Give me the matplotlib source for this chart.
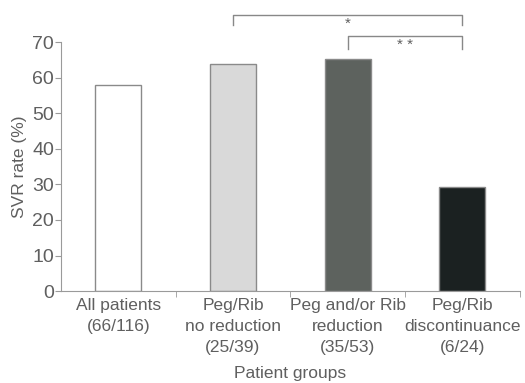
import matplotlib
matplotlib.use("Agg")
import matplotlib.pyplot as plt
import numpy as np

categories = ["All patients\n(66/116)", "Peg/Rib\nno reduction\n(25/39)",
              "Peg and/or Rib\nreduction\n(35/53)", "Peg/Rib\ndiscontinuance\n(6/24)"]
svr_rates = [58, 63.8, 65.2, 29.3]
bar_colors = ["#ffffff", "#d9d9d9", "#5d625e", "#1b2121"]
y_ticks = [0, 10, 20, 30, 40, 50, 60, 70]

plt.rcParams['font.family'] = ['Liberation Sans', 'DejaVu Sans']
txt = "#5f5f5f"
axc = "#9a9a9a"

fig = plt.figure(figsize=(5.25, 3.83), dpi=100)
ax = fig.add_axes([0.116, 0.240, 0.874, 0.650])
x = np.arange(len(categories))
ax.bar(x, svr_rates, width=0.4, color=bar_colors, edgecolor="#8a8a8a", linewidth=1.0)
ax.set_xlim(-0.5, 3.5)
ax.set_ylim(0, 70)
ax.set_yticks(y_ticks)
ax.set_xticks(x)
ax.set_xticklabels(categories, fontsize=12.5, color=txt, linespacing=1.5)
ax.set_xticks(np.arange(0.5, 3.6, 1), minor=True)
ax.tick_params(axis='x', which='major', length=0, pad=5)
ax.tick_params(axis='x', which='minor', length=4, color=axc, direction='out')
ax.tick_params(axis='y', labelsize=14, labelcolor=txt, color=axc, length=4, pad=1)
for s in ["top", "right"]:
    ax.spines[s].set_visible(False)
for s in ["left", "bottom"]:
    ax.spines[s].set_color(axc)
ax.set_ylabel("SVR rate (%)", fontsize=12.5, color=txt, labelpad=4)
ax.set_xlabel("Patient groups", fontsize=12.5, color=txt, labelpad=8)

def bracket(x0, x1, y, ytick, label):
    ax.plot([x0, x0, x1, x1], [ytick, y, y, ytick], color="#888888", lw=1.0, clip_on=False)
    ax.text((x0 + x1) / 2, y - 0.4, label, ha='center', va='top', fontsize=11, color=txt)

bracket(1, 3, 77.5, 74.7, "*")
bracket(2, 3, 71.6, 68.2, "* *")

fig.savefig("out.png", dpi=100)
